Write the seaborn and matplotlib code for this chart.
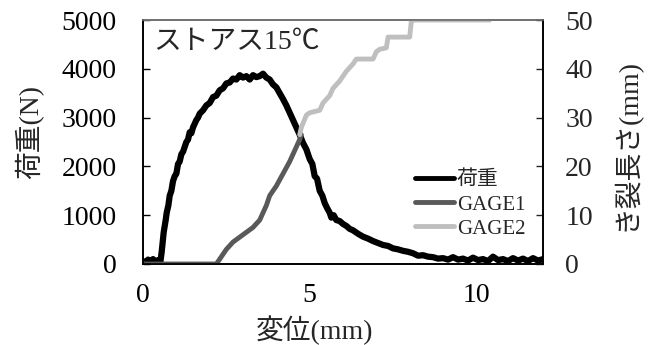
import matplotlib
matplotlib.use("Agg")
import matplotlib.pyplot as plt
from matplotlib.lines import Line2D
import seaborn as sns
import pandas as pd

sns.set_theme(style="white")
plt.rcParams['font.family'] = ['Liberation Serif', 'Noto Sans CJK JP', 'DejaVu Sans']

# Load (荷重) vs displacement
load_x = [0.0, 0.08, 0.15, 0.22, 0.3, 0.38, 0.45, 0.52, 0.56, 0.62, 0.68, 0.71, 0.76, 0.8, 0.85,
          0.9, 0.95, 1.0, 1.05, 1.1, 1.15, 1.2, 1.3, 1.35, 1.4, 1.45, 1.5, 1.6, 1.65, 1.7, 1.8,
          1.9, 2.0, 2.1, 2.2, 2.3, 2.4, 2.5, 2.6, 2.7, 2.8, 2.9, 3.0, 3.1, 3.2, 3.3, 3.4, 3.5,
          3.6, 3.7, 3.8, 3.9, 4.0, 4.1, 4.2, 4.3, 4.4, 4.5, 4.6, 4.7, 4.8, 4.9, 5.0, 5.08, 5.15,
          5.22, 5.3, 5.38, 5.45, 5.52, 5.6, 5.65, 5.72, 5.8, 5.9, 6.0, 6.1, 6.2, 6.3, 6.45, 6.6,
          6.75, 6.9, 7.05, 7.2, 7.35, 7.5, 7.65, 7.8, 7.95, 8.1, 8.25, 8.4, 8.55, 8.7, 8.85, 9.0,
          9.15, 9.3, 9.45, 9.6, 9.75, 9.9, 10.05, 10.2, 10.35, 10.5, 10.65, 10.8, 10.95, 11.1,
          11.25, 11.4, 11.55, 11.7, 11.85, 12.0]
load_y = [60, 20, 90, 40, 100, 30, 80, 40, 250, 650, 900, 1050, 1200, 1400, 1500,
          1700, 1800, 1850, 2050, 2100, 2250, 2300, 2500, 2550, 2700, 2680, 2800, 2950, 3000, 3080, 3150,
          3250, 3300, 3420, 3450, 3560, 3600, 3700, 3720, 3800, 3780, 3870, 3820, 3850, 3780, 3870, 3830, 3850,
          3900, 3820, 3780, 3680, 3620, 3500, 3380, 3250, 3100, 2950, 2800, 2650, 2480, 2350, 2150, 2050, 1800,
          1750, 1500, 1400, 1250, 1150, 1050, 950, 1000, 900, 880, 820, 780, 720, 690, 620, 560,
          520, 470, 430, 390, 370, 320, 300, 270, 250, 220, 170, 180, 150, 140, 110, 120,
          90, 140, 90, 110, 70, 130, 80, 100, 60, 150, 80, 100, 60, 120,
          70, 110, 60, 120, 70, 100]

# GAGE1 crack length
g1_x = [0.0, 2.2, 2.3, 2.5, 2.7, 2.9, 3.1, 3.3, 3.5, 3.7, 3.8, 4.0, 4.2, 4.4, 4.6, 4.7, 4.75]
g1_y = [0.0, 0.0, 1.0, 3.0, 4.5, 5.5, 6.5, 7.5, 9.0, 12.0, 14.0, 16.0, 18.5, 21.0, 24.0, 25.5, 26.5]

# GAGE2 crack length
g2_x = [4.7, 4.75, 4.9, 5.0, 5.3, 5.4, 5.6, 5.7, 5.9, 6.1, 6.3, 6.4, 6.9, 7.0, 7.1, 7.3, 7.35,
        8.0, 8.05, 8.1, 10.4]
g2_y = [26.5, 28.0, 30.5, 31.0, 31.5, 33.0, 34.5, 36.0, 37.5, 39.5, 41.0, 42.0, 42.0, 43.5, 44.0,
        44.3, 46.5, 46.5, 49.8, 50.0, 50.0]

x_ticks = [0, 5, 10]
load_ticks = [0, 1000, 2000, 3000, 4000, 5000]
crack_ticks = [0, 10, 20, 30, 40, 50]
series_names = ["荷重", "GAGE1", "GAGE2"]
series_colors = ["black", "#595959", "#bfbfbf"]

df_load = pd.DataFrame({"x": load_x, "y": load_y})
df_g1 = pd.DataFrame({"x": g1_x, "y": g1_y})
df_g2 = pd.DataFrame({"x": g2_x, "y": g2_y})

fig = plt.figure(figsize=(6.54, 3.45), dpi=100)
ax = fig.add_axes([0.2187, 0.2348, 0.6116, 0.7072])
ax2 = ax.twinx()

sns.lineplot(data=df_load, x="x", y="y", ax=ax, color=series_colors[0], linewidth=4.5,
             legend=False, sort=False, solid_joinstyle='round', solid_capstyle='round')
sns.lineplot(data=df_g1, x="x", y="y", ax=ax2, color=series_colors[1], linewidth=3.5,
             legend=False, sort=False)
sns.lineplot(data=df_g2, x="x", y="y", ax=ax2, color=series_colors[2], linewidth=3.5,
             legend=False, sort=False)

ax.set_xlim(0, 12)
ax.set_ylim(0, 5000)
ax2.set_ylim(0, 50)
ax.set_xticks(x_ticks)
ax.set_yticks(load_ticks)
ax2.set_yticks(crack_ticks)

fs = 20
ax.tick_params(axis='both', direction='in', labelsize=fs, length=5, width=1, colors='black')
ax.tick_params(axis='x', pad=14)
ax.tick_params(axis='y', pad=19)
ax2.tick_params(axis='y', direction='in', labelsize=fs, length=5, width=1, pad=16)

ax.set_xlabel("変位(mm)", fontsize=fs)
ax.xaxis.set_label_coords(0.4275, -0.21)
ax.set_ylabel("荷重(N)", fontsize=fs)
ax.yaxis.set_label_coords(-0.248, 0.54)
ax2.set_ylabel("き裂長さ(mm)", fontsize=fs)
ax2.yaxis.set_label_coords(1.172, 0.49)

for a in (ax, ax2):
    for s in a.spines.values():
        s.set_color("black")
        s.set_linewidth(1.2)
    a.spines['top'].set_color("#707070")
    a.grid(False)

ax.text(0.025, 0.908, "ストアス15℃", transform=ax.transAxes, fontsize=fs,
        ha='left', va='center')

handles = [Line2D([], [], color=c, linewidth=3.5) for c in series_colors]
ax2.legend(handles, series_names, loc='upper left',
           bbox_to_anchor=(0.68, 0.382), frameon=False, fontsize=15,
           handlelength=1.85, handletextpad=0.15, labelspacing=0.22, borderpad=0,
           borderaxespad=0)

fig.savefig("out.png", dpi=100)
